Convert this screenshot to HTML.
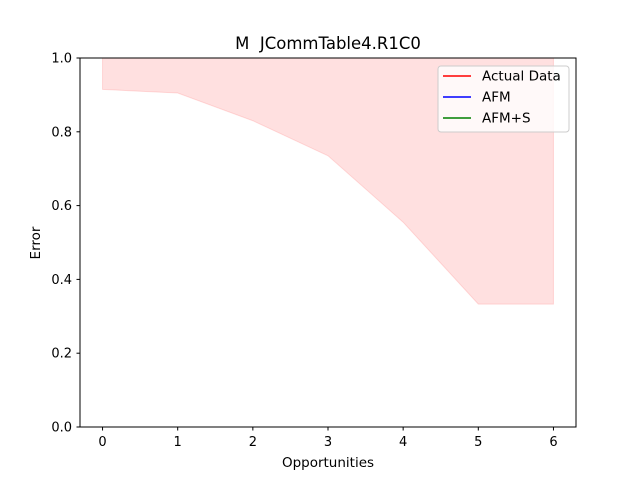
<!DOCTYPE html>
<html><head><meta charset="utf-8"><style>
body{margin:0;background:#fff;}
svg{display:block;font-family:"DejaVu Sans","Liberation Sans",sans-serif;}
</style></head><body>
<svg id="chart" width="640" height="480">
<rect width="640" height="480" fill="#fff"/>
<text x="328" y="49" font-size="16.5" text-anchor="middle" style="white-space:pre">M  JCommTable4.R1C0</text>
<g id="plot"></g>
<rect x="80" y="58" width="496" height="369" fill="none" stroke="#000" stroke-width="1"/>
<g id="xticks"></g><g id="yticks"></g>
<text x="328" y="467" font-size="13.5" text-anchor="middle">Opportunities</text>
<text x="40" y="243" font-size="13.5" text-anchor="middle" transform="rotate(-90 40 243)">Error</text>
<g>
<rect x="438" y="66" width="131" height="66" rx="3" fill="#fff" fill-opacity="0.8" stroke="#ccc"/>
<g><line x1="443" y1="76" x2="471" y2="76" stroke="red" stroke-width="1.5"/><text x="482" y="80.5" font-size="13.5">Actual Data</text></g>
<g><line x1="443" y1="97" x2="471" y2="97" stroke="blue" stroke-width="1.5"/><text x="482" y="101.5" font-size="13.5">AFM</text></g>
<g><line x1="443" y1="118" x2="471" y2="118" stroke="green" stroke-width="1.5"/><text x="482" y="122.5" font-size="13.5">AFM+S</text></g>
</g>
</svg>
<script>
const opportunities=[0,1,2,3,4,5,6];
const lowerBound=[0.915,0.905,0.83,0.735,0.555,0.333,0.333];
const upperBound=[1.0,1.0,1.0,1.0,1.0,1.0,1.0];
const xTickLabels=["0","1","2","3","4","5","6"];
const yTickLabels=["0.0","0.2","0.4","0.6","0.8","1.0"];
const NS="http://www.w3.org/2000/svg";
const xs=v=>80+(v+0.3)/6.6*496;
const ys=v=>427-v*369;
const plot=document.getElementById('plot');
let d="M"+opportunities.map((o,i)=>xs(o)+","+ys(upperBound[i])).join("L");
for(let i=opportunities.length-1;i>=0;i--)d+="L"+xs(opportunities[i])+","+ys(lowerBound[i]);
d+="Z";
const p=document.createElementNS(NS,'path');
p.setAttribute('d',d);p.setAttribute('fill','#ff0000');p.setAttribute('fill-opacity','0.12');
p.setAttribute('stroke','#ff0000');p.setAttribute('stroke-opacity','0.12');


plot.appendChild(p);
const xt=document.getElementById('xticks');
xTickLabels.forEach(l=>{const x=xs(+l);
const t=document.createElementNS(NS,'line');t.setAttribute('x1',x);t.setAttribute('x2',x);t.setAttribute('y1',427);t.setAttribute('y2',430.5);t.setAttribute('stroke','#000');


xt.appendChild(t);
const tx=document.createElementNS(NS,'text');tx.setAttribute('x',x);tx.setAttribute('y',446);tx.setAttribute('font-size','13');tx.setAttribute('text-anchor','middle');tx.textContent=l;


xt.appendChild(tx);});
const yt=document.getElementById('yticks');
yTickLabels.forEach(l=>{const y=ys(+l);
const t=document.createElementNS(NS,'line');t.setAttribute('x1',76.5);t.setAttribute('x2',80);t.setAttribute('y1',y);t.setAttribute('y2',y);t.setAttribute('stroke','#000');


yt.appendChild(t);
const tx=document.createElementNS(NS,'text');tx.setAttribute('x',72);tx.setAttribute('y',y+4.5);tx.setAttribute('font-size','13');tx.setAttribute('text-anchor','end');tx.textContent=l;


yt.appendChild(tx);});
</script>
</body></html>
